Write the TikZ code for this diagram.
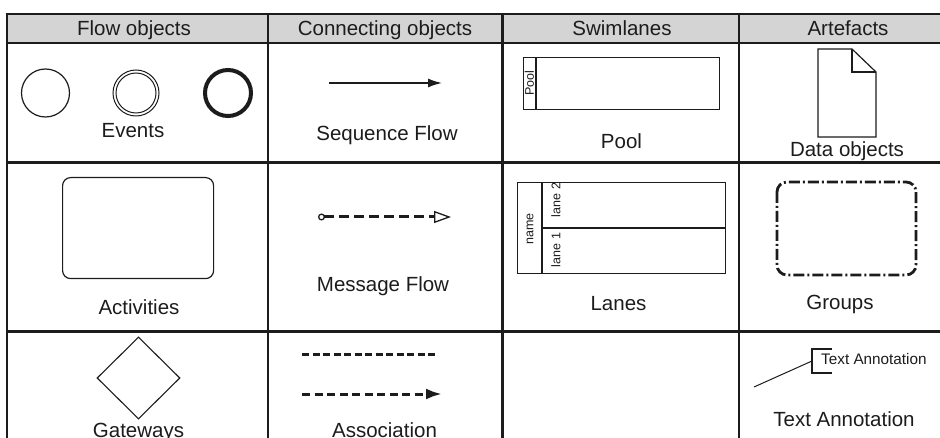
\documentclass[tikz,border=0pt]{standalone}
\usepackage{fontspec}
\setmainfont{Liberation Sans}
\usetikzlibrary{arrows.meta,shapes.geometric}
\definecolor{headgray}{RGB}{212,212,212}
\definecolor{ink}{RGB}{28,28,28}
\begin{document}
\begin{tikzpicture}[x=1pt,y=-1pt,
  lbl/.style={font=\fontsize{20.5}{24}\selectfont, inner sep=0pt, anchor=base, text=ink},
  small/.style={font=\fontsize{12.5}{14}\selectfont, inner sep=0pt, rotate=90, text=ink},
  smalltext/.style={font=\fontsize{15.3}{18}\selectfont, inner sep=0pt, anchor=base west, text=ink},
  rule/.style={draw=ink, line width=1.5pt},
  heavyrule/.style={draw=ink, line width=3pt},
  shapeline/.style={draw=ink, line width=1.2pt},
  groupline/.style={draw=ink, line width=2.8pt, rounded corners=10pt,
    dash pattern=on 11pt off 3pt on 2pt off 3pt},
  msgline/.style={draw=ink, line width=3pt, dash pattern=on 10pt off 5pt},
  assocline/.style={draw=ink, line width=3pt, dash pattern=on 7pt off 3.5pt}]
\useasboundingbox (0,0) rectangle (940,438);

% header band and grid
\fill[headgray] (7,14) rectangle (940,43);
\draw[rule] (7,14) -- (940,14);
\draw[draw=ink, line width=1.3pt] (7,43) -- (940,43);
\draw[draw=ink, line width=2pt] (7,13) -- (7,438);
\draw[rule] (268,14) -- (268,438);
\draw[heavyrule] (502,14) -- (502,438);
\draw[rule] (739,14) -- (739,438);
\draw[heavyrule] (7,163) -- (940,163);
\draw[heavyrule] (7,332) -- (940,332);

% headers
\node[lbl] (hflow) at (134,35.5) {Flow objects};
\node[lbl] (hconn) at (385,35.5) {Connecting objects};
\node[lbl] (hswim) at (622,35.5) {Swimlanes};
\node[lbl] (hart) at (848,35.5) {Artefacts};

% events
\node[shapeline, circle, minimum size=48pt, inner sep=0pt] (ev1) at (45.5,93) {};
\node[shapeline, circle, minimum size=46pt, inner sep=0pt, line width=1pt] (ev2o) at (136,93) {};
\node[shapeline, circle, minimum size=40pt, inner sep=0pt, line width=1pt] (ev2i) at (136,93) {};
\node[draw=ink, circle, minimum size=46pt, inner sep=0pt, line width=4pt] (ev3) at (228,93) {};
\node[lbl] (tevents) at (133,138) {Events};

% sequence flow
\coordinate (sfa) at (329,83);
\coordinate (sfb) at (442,83);
\draw[draw=ink, line width=1.5pt, -{Latex[length=14pt,width=9pt]}] (sfa) -- (sfb);
\node[lbl] (tseq) at (387,140.5) {Sequence Flow};

% pool
\node[shapeline, rectangle, minimum width=196pt, minimum height=52pt, inner sep=0pt, anchor=north west] (pool) at (523,57) {};
\draw[shapeline] (536,57) -- (536,109);
\node[small] (poolname) at (529.5,83) {Pool};
\node[lbl] (tpool) at (621.5,149) {Pool};

% data object
\draw[shapeline, line join=miter] (818,49) -- (852,49) -- (876,72) -- (876,137) -- (818,137) -- cycle;
\draw[shapeline] (852,49) -- (852,72) -- (876,72);
\node[lbl] (tdata) at (847,156.5) {Data objects};

% activities
\node[shapeline, rectangle, rounded corners=8pt, minimum width=151pt, minimum height=101pt, inner sep=0pt, anchor=north west] (act) at (62,177) {};
\node[lbl] (tact) at (139,315) {Activities};

% message flow
\coordinate (mfa) at (318,217);
\coordinate (mfb) at (451,217);
\draw[msgline, {Circle[open,length=7pt,line width=1.3pt]}-{Triangle[open,length=17pt,width=12pt,line width=1.3pt]}] (mfa) -- (mfb);
\node[lbl] (tmsg) at (383,292) {Message Flow};

% lanes
\node[shapeline, rectangle, minimum width=208pt, minimum height=91pt, inner sep=0pt, anchor=north west, line width=1.3pt] (lanes) at (517,182) {};
\draw[shapeline] (542,182) -- (542,273);
\draw[shapeline] (542,228) -- (725,228);
\node[small] (lname) at (530,229) {name};
\node[small] (lane2) at (556,200) {lane 2};
\node[small] (lane1) at (556,250) {lane 1};
\node[lbl] (tlanes) at (618.5,311) {Lanes};

% groups
\draw[groupline] (777,182) rectangle (916,275);
\node[lbl] (tgroups) at (840,310) {Groups};

% gateway
\node[shapeline, diamond, minimum width=83pt, minimum height=82pt, inner sep=0pt, line width=1.1pt, shape aspect=1] (gw) at (138.5,378) {};
\node[lbl] (tgw) at (138.5,437) {Gateways};

% association
\coordinate (asa) at (302,355);
\coordinate (asb) at (437,355);
\draw[assocline] (asa) -- (asb);
\coordinate (asc) at (302,394);
\coordinate (asd) at (442,394);
\draw[assocline, dash pattern=on 8pt off 4.5pt, -{Latex[length=16pt,width=11pt]}] (asc) -- (asd);
\node[lbl] (tassoc) at (384.5,437) {Association};

% text annotation
\coordinate (tab) at (812,361);
\coordinate (taline) at (754,387);
\draw[shapeline, line width=1pt] (taline) -- (tab);
\draw[shapeline, line width=1.3pt] (832,349) -- (812,349) -- (812,373) -- (832,373);
\node[smalltext] (tasmall) at (821,365) {Text Annotation};
\node[lbl] (tanno) at (844,426) {Text Annotation};
\end{tikzpicture}
\end{document}
